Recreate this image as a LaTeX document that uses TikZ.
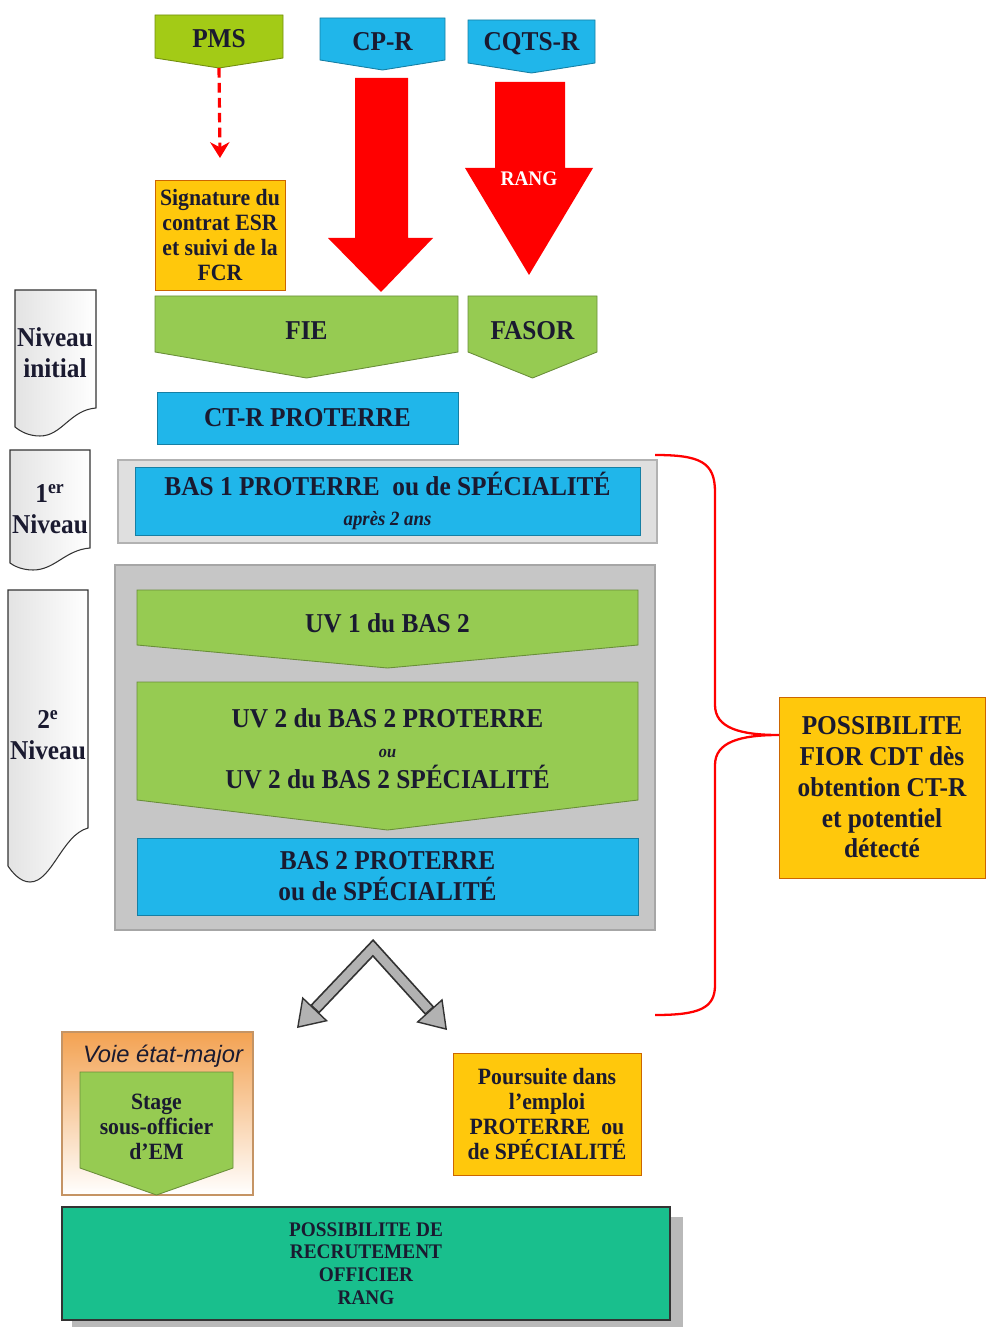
\documentclass[tikz,border=0pt]{standalone}
\usepackage{fontspec}
\setmainfont{Liberation Serif}[FakeStretch=0.93]
\newfontfamily\voiefont{Liberation Sans}
\usepackage{tikz}
\usetikzlibrary{positioning,arrows.meta}

\definecolor{vert}{HTML}{96CB52}
\definecolor{vertpms}{HTML}{A3CB16}
\definecolor{bleu}{HTML}{20B6EA}
\definecolor{jaune}{HTML}{FFC80C}
\definecolor{rouge}{HTML}{FF0000}
\definecolor{turq}{HTML}{19BF8D}
\definecolor{encre}{HTML}{1A1A30}
\definecolor{voieor}{HTML}{F3A252}

\newcommand{\fgrand}{\bfseries\fontsize{15.5}{17.5}\selectfont}
\newcommand{\fmoyen}{\bfseries\fontsize{13.3}{14.3}\selectfont}
\newcommand{\fpetit}{\bfseries\fontsize{11.8}{13}\selectfont}

\tikzset{
  txt/.style={text=encre, align=center, inner sep=0pt, outer sep=0pt},
  vertbox/.style={fill=vert, draw=vert!70!black, line width=0.5pt},
  pmsbox/.style={fill=vertpms, draw=vertpms!70!black, line width=0.5pt},
  bleubox/.style={fill=bleu, draw=bleu!70!black, line width=0.5pt},
  jaunebox/.style={fill=jaune, draw=orange!80!black, line width=0.5pt},
  turqbox/.style={fill=turq, draw=black!80, line width=0.8pt},
  voiebox/.style={top color=voieor, bottom color=white, draw=voieor!60!gray, line width=0.6pt},
  cadre/.style={fill=gray!45, draw=gray!70, line width=1.2pt},
  cadreclair/.style={fill=gray!25, draw=gray!60, line width=1.2pt},
  niv/.style={left color=gray!22, right color=white, draw=black!80, line width=0.6pt},
}

% box from corners (x1,y1)-(x2,y2), pixel units
\newcommand{\boite}[8]{%
  \node[#6, txt, font=#7, minimum width={(#4-#2)*0.02cm},
    minimum height={(#5-#3)*0.02cm}] (#1) at ({(#2+#4)/2},{(#3+#5)/2}) {#8};}
% box with a point below
\newcommand{\fleche}[9]{%
  \filldraw[#7] (#2,#3) -- (#4,#3) -- (#4,#5) -- ({(#2+#4)/2},{#5+#6})
    -- (#2,#5) -- cycle;
  \coordinate (#1-pointe) at ({(#2+#4)/2},{#5+#6});
  \node[txt, font=#8] (#1) at ({(#2+#4)/2},{(#3+#5+#6/2)/2}) {#9};}

\begin{document}
\begin{tikzpicture}[x=0.02cm, y=-0.02cm]
  \useasboundingbox (0,0) rectangle (985,1327);

  % origines
  \fleche{pms}{155}{15}{283}{58}{10}{pmsbox}{\fgrand}{PMS}
  \fleche{cpr}{320}{18}{445}{60}{10}{bleubox}{\fgrand}{CP-R}
  \fleche{cqts}{468}{20}{595}{63}{10}{bleubox}{\fgrand}{CQTS-R}

  \coordinate (sign-haut) at (220,158);
  \draw[rouge, line width=1.8pt, dash pattern=on 5.5pt off 3pt,
    -{Stealth[length=9pt,width=11pt]}] (pms-pointe) -- (sign-haut);

  \fill[rouge] (355,78) -- (408,78) -- (408,238) -- (433,238) -- (381,292)
    -- (328,238) -- (355,238) -- cycle;
  \fill[rouge] (495,82) -- (565,82) -- (565,168) -- (593,168) -- (529,275)
    -- (465,168) -- (495,168) -- cycle;
  \node[txt, font=\fpetit, text=white] (rang) at (529,179) {RANG};

  \boite{sign}{155}{180}{285}{290}{jaunebox}{\fmoyen}{Signature du\\contrat ESR\\et suivi de la\\FCR}
  \fleche{fie}{155}{296}{458}{352}{26}{vertbox}{\fgrand}{FIE}
  \fleche{fasor}{468}{296}{597}{352}{26}{vertbox}{\fgrand}{FASOR}
  \boite{ctr}{157}{392}{458}{444}{bleubox}{\fgrand}{CT-R PROTERRE}

  % niveaux
  \draw[niv] (15,290) -- (96,290) -- (96,408) .. controls (70,410) and (62,436) .. (40,436)
    .. controls (28,436) and (20,431) .. (15,427) -- cycle;
  \node[txt, font=\fgrand] (nivinit) at (55,353) {Niveau\\initial};
  \draw[niv] (10,450) -- (90,450) -- (90,548) .. controls (65,550) and (55,570) .. (33,570)
    .. controls (22,570) and (14,566) .. (10,563) -- cycle;
  \node[txt, font=\fgrand] (niv1) at (50,509) {1\textsuperscript{er}\\Niveau};
  \draw[niv] (8,590) -- (88,590) -- (88,828) .. controls (62,835) and (52,882) .. (30,882)
    .. controls (20,882) and (12,872) .. (8,866) -- cycle;
  \node[txt, font=\fgrand] (niv2) at (48,735) {2\textsuperscript{e}\\Niveau};

  \boite{cadre1}{118}{460}{657}{543}{cadreclair}{}{}
  \boite{bas1}{135}{467}{640}{535}{bleubox}{\fgrand}{BAS 1 PROTERRE\ \ ou de SPÉCIALITÉ\\{\itshape\fontsize{11.5}{13}\selectfont après 2 ans}}

  \boite{cadre2}{115}{565}{655}{930}{cadre}{}{}
  \fleche{uv1}{137}{590}{638}{645}{23}{vertbox}{\fgrand}{UV 1 du BAS 2}
  \fleche{uv2}{137}{682}{638}{800}{30}{vertbox}{\fgrand}{UV 2 du BAS 2 PROTERRE\\{\itshape\fontsize{10}{11}\selectfont ou}\\UV 2 du BAS 2 SPÉCIALITÉ}
  \boite{bas2}{137}{838}{638}{915}{bleubox}{\fgrand}{BAS 2 PROTERRE\\ou de SPÉCIALITÉ}

  % sorties
  \coordinate (sommet) at (373,948);
  \coordinate (vers-em) at (297,1028);
  \coordinate (vers-pours) at (447,1030);
  \draw[line width=7pt, gray!40!black, line join=miter,
    {Triangle[length=15pt,width=20pt,fill=gray!60,line width=0.8pt]}-{Triangle[length=15pt,width=20pt,fill=gray!60,line width=0.8pt]}]
    (vers-em) -- (sommet) -- (vers-pours);
  \draw[line width=5pt, gray!60, line join=miter, shorten <=15.5pt, shorten >=15.5pt]
    (vers-em) -- (sommet) -- (vers-pours);

  \boite{voie}{62}{1032}{253}{1195}{voiebox}{}{}
  \node[txt, font={\voiefont\itshape\fontsize{13.5}{15}\selectfont}] (voietxt) at (163,1056) {Voie état-major};
  \fleche{stage}{80}{1072}{233}{1168}{27}{vertbox}{\fmoyen}{Stage\\sous-officier\\d’EM}
  \boite{pours}{453}{1053}{641}{1175}{jaunebox}{\fmoyen}{Poursuite dans\\l’emploi\\PROTERRE\ \ ou\\de SPÉCIALITÉ}

  \fill[gray!55] (72,1217) rectangle (683,1327);
  \boite{recrut}{62}{1207}{670}{1320}{turqbox}{\fpetit}{POSSIBILITE DE\\RECRUTEMENT\\OFFICIER\\RANG}

  % accolade
  \boite{fior}{779}{697}{985}{878}{jaunebox}{\fgrand}{POSSIBILITE\\FIOR CDT dès\\obtention CT-R\\et potentiel\\détecté}
  \coordinate (acc-haut) at (655,455);
  \coordinate (acc-bas) at (655,1015);
  \coordinate (acc-pointe) at (779,735);
  \draw[rouge, line width=1.3pt] (acc-haut) .. controls (700,455) and (715,462) .. (715,492)
    -- (715,705) .. controls (715,728) and (740,735) .. (acc-pointe)
    .. controls (740,735) and (715,742) .. (715,765)
    -- (715,985) .. controls (715,1008) and (700,1015) .. (acc-bas);
\end{tikzpicture}
\end{document}
